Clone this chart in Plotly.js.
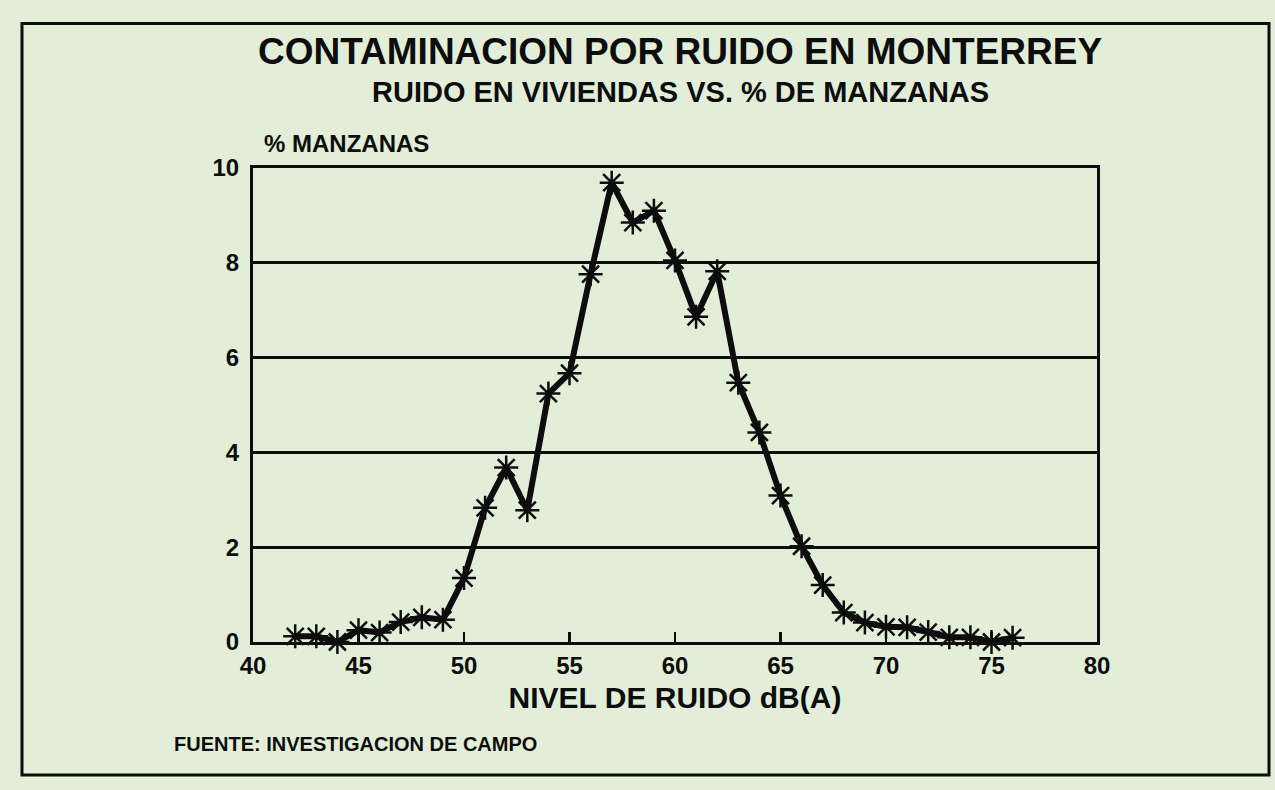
<!DOCTYPE html>
<html>
<head>
<meta charset="utf-8">
<script src="https://cdn.plot.ly/plotly-3.0.1.min.js"></script>
<style>
  html, body { margin: 0; padding: 0; background: #e2eed8; }
  #chart { width: 1275px; height: 790px; }
</style>
</head>
<body>
<div id="chart"></div>
<script>
// Noise level in dB(A)
const nivelRuido = [42, 43, 44, 45, 46, 47, 48, 49, 50, 51, 52, 53, 54, 55, 56, 57, 58, 59,
                    60, 61, 62, 63, 64, 65, 66, 67, 68, 69, 70, 71, 72, 73, 74, 75, 76];
// % of city blocks (manzanas)
const pctManzanas = [0.12, 0.12, 0.0, 0.25, 0.2, 0.42, 0.52, 0.47, 1.35, 2.83, 3.68, 2.78, 5.24, 5.67,
                     7.76, 9.69, 8.85, 9.1, 8.05, 6.86, 7.82, 5.47, 4.42, 3.09, 2.02, 1.2, 0.62,
                     0.41, 0.32, 0.31, 0.21, 0.1, 0.1, 0.0, 0.09];
const xTicks = [40, 45, 50, 55, 60, 65, 70, 75, 80];
const yTicks = [0, 2, 4, 6, 8, 10];

const titulo = 'CONTAMINACION POR RUIDO EN MONTERREY';
const subtitulo = 'RUIDO EN VIVIENDAS VS. % DE MANZANAS';
const tituloY = '% MANZANAS';
const tituloX = 'NIVEL DE RUIDO dB(A)';
const fuente = 'FUENTE: INVESTIGACION DE CAMPO';

const FONT = 'Liberation Sans, Arial, Helvetica, sans-serif';
const BG = '#e2eed8';
const INK = '#0d0d0d';

const trace = {
  x: nivelRuido,
  y: pctManzanas,
  type: 'scatter',
  mode: 'lines+markers',
  line: { color: INK, width: 6 },
  marker: { symbol: 'asterisk-open', size: 20, color: INK, line: { color: INK, width: 2.5 } },
  cliponaxis: false,
  hoverinfo: 'x+y'
};

const layout = {
  width: 1275,
  height: 790,
  margin: { l: 253, r: 178, t: 168, b: 148, pad: 0 },
  paper_bgcolor: BG,
  plot_bgcolor: BG,
  showlegend: false,
  font: { family: FONT, color: INK, weight: 'bold' },
  xaxis: {
    range: [40, 80],
    tickvals: xTicks,
    ticktext: xTicks.map(String),
    ticks: 'inside',
    ticklen: 10,
    tickwidth: 2.5,
    tickcolor: INK,
    ticklabelstandoff: 0,
    showline: true,
    linecolor: INK,
    linewidth: 3,
    mirror: true,
    showgrid: false,
    zeroline: false,
    tickfont: { family: FONT, size: 24, color: INK, weight: 'bold' },
    title: { text: tituloX, font: { family: FONT, size: 30, color: INK, weight: 'bold' }, standoff: 10 },
    automargin: false,
    fixedrange: true
  },
  yaxis: {
    range: [0, 10],
    tickvals: yTicks,
    ticktext: yTicks.map(String),
    ticks: '',
    ticklabelstandoff: 6,
    showline: true,
    linecolor: INK,
    linewidth: 3,
    mirror: true,
    showgrid: true,
    gridcolor: INK,
    gridwidth: 3,
    zeroline: false,
    tickfont: { family: FONT, size: 24, color: INK, weight: 'bold' },
    automargin: false,
    fixedrange: true
  },
  annotations: [
    { text: titulo, xref: 'paper', yref: 'paper', x: 0.506, y: 1.245, xanchor: 'center', yanchor: 'middle',
      showarrow: false, font: { family: FONT, size: 37, color: INK, weight: 'bold' } },
    { text: subtitulo, xref: 'paper', yref: 'paper', x: 0.506, y: 1.160, xanchor: 'center', yanchor: 'middle',
      showarrow: false, font: { family: FONT, size: 29, color: INK, weight: 'bold' } },
    { text: tituloY, xref: 'paper', yref: 'paper', x: 0.011, y: 1.052, xanchor: 'left', yanchor: 'middle',
      showarrow: false, font: { family: FONT, size: 24, color: INK, weight: 'bold' } },
    { text: fuente, xref: 'paper', yref: 'paper', x: -0.096, y: -0.215, xanchor: 'left', yanchor: 'middle',
      showarrow: false, font: { family: FONT, size: 20, color: INK, weight: 'bold' } }
  ],
  shapes: [
    { type: 'rect', xref: 'paper', yref: 'paper', x0: -0.2737, x1: 1.2038, y0: -0.2805, y1: 1.305,
      line: { color: INK, width: 3 }, fillcolor: 'rgba(0,0,0,0)', layer: 'below' }
  ]
};

Plotly.newPlot('chart', [trace], layout, { displayModeBar: false, staticPlot: true });
</script>
</body>
</html>
